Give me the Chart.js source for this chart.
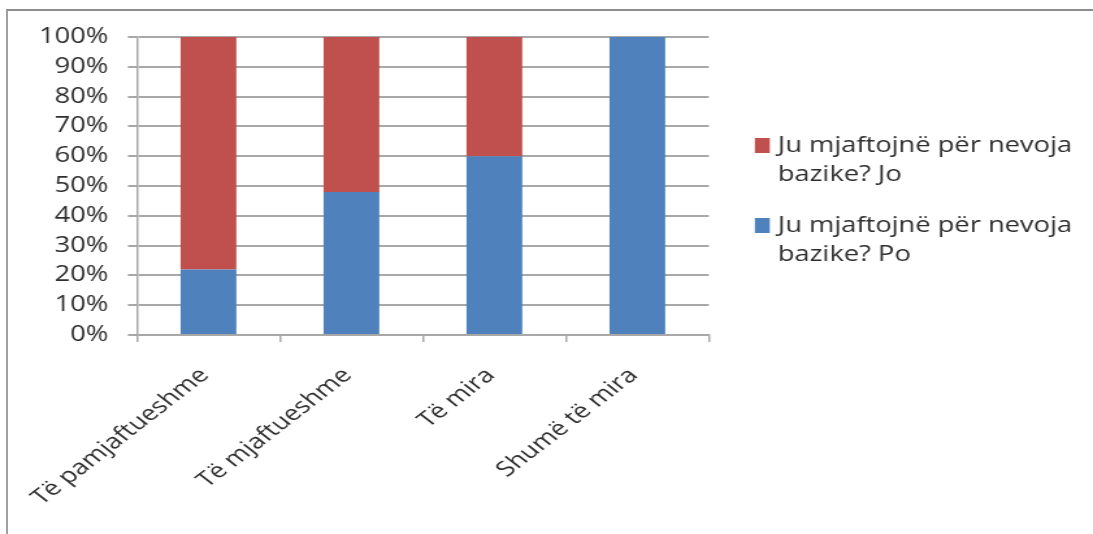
<!DOCTYPE html>
<html>
<head>
<meta charset="utf-8">
<script src="https://cdn.jsdelivr.net/npm/chart.js@4"></script>
<style>
  html, body { margin: 0; padding: 0; background: #fff; }
  #frame { position: absolute; left: 6px; top: 9px; width: 1093px; height: 534px;
           border-top: 2px solid #8c8c8c; border-left: 2px solid #a0a0a0; }
  #chart { position: absolute; left: 0; top: 0; width: 1093px; height: 534px; }
</style>
</head>
<body>
<div id="frame"></div>
<!-- drawn narrow and stretched sideways, like the source picture -->
<canvas id="chart" width="841" height="534" style="width:1093px;height:534px"></canvas>
<script>
const categories = ['Të pamjaftueshme', 'Të mjaftueshme', 'Të mira', 'Shumë të mira'];
const poValues = [22, 48, 60, 100];
const joValues = [78, 52, 40, 0];
const poLabel = 'Ju mjaftojnë për nevoja bazike? Po';
const joLabel = 'Ju mjaftojnë për nevoja bazike? Jo';
const legendLines = {
  [poLabel]: ['Ju mjaftojnë për nevoja', 'bazike? Po'],
  [joLabel]: ['Ju mjaftojnë për nevoja', 'bazike? Jo']
};

const textColor = '#2e2e2e';
const gridColor = '#a8a8a8';
const font = { family: 'Open Sans', size: 21 };

// legend with wrapped lines, red (Jo) on top as in the source
const sideLegend = {
  id: 'sideLegend',
  afterDraw(c, args, opts) {
    const g = c.ctx;
    const x = c.chartArea.right + opts.offsetX;
    let y = opts.top;
    g.save();
    g.font = opts.size + 'px ' + opts.family;
    g.textBaseline = 'middle';
    g.textAlign = 'left';
    c.data.datasets.slice().reverse().forEach(ds => {
      g.fillStyle = ds.backgroundColor;
      g.fillRect(x, y - 7.5, 11.5, 15);
      g.fillStyle = opts.color;
      legendLines[ds.label].forEach((line, i) => {
        g.fillText(line, x + 17.7, y + 1 + i * opts.lineHeight);
      });
      y += opts.itemGap;
    });
    g.restore();
  }
};

const ctx = document.getElementById('chart').getContext('2d');
const chart = new Chart(ctx, {
  type: 'bar',
  data: {
    labels: categories,
    datasets: [
      { label: poLabel, data: poValues, backgroundColor: '#4f81bd' },
      { label: joLabel, data: joValues, backgroundColor: '#c0504d' }
    ]
  },
  options: {
    responsive: false,
    devicePixelRatio: 1,
    animation: false,
    categoryPercentage: 1,
    barPercentage: 0.39,
    layout: { autoPadding: false, padding: { top: 37, right: 295.6, bottom: 0, left: 0 } },
    plugins: {
      tooltip: { enabled: false },
      legend: { display: false },
      sideLegend: { offsetX: 35.4, top: 145.5, lineHeight: 29, itemGap: 80, color: textColor, family: 'Open Sans', size: 21 }
    },
    scales: {
      x: {
        stacked: true,
        grid: { display: true, drawOnChartArea: false, color: gridColor, lineWidth: 1.5, tickLength: 7 },
        border: { color: gridColor, width: 1.5 },
        ticks: { color: textColor, font: font, minRotation: 45, maxRotation: 45, labelOffset: -3, padding: 21 },
        afterFit: (s) => { s.height = 199; s.paddingLeft = 0; s.paddingRight = 0; }
      },
      y: {
        stacked: true,
        min: 0,
        max: 100,
        grid: { color: gridColor, lineWidth: 2, tickLength: 7 },
        border: { color: gridColor, width: 1.5 },
        ticks: { stepSize: 10, color: textColor, font: font, padding: 15, callback: v => v + '%' },
        afterFit: (s) => { s.width = 105.4; }
      }
    }
  },
  plugins: [sideLegend]
});
</script>
</body>
</html>
